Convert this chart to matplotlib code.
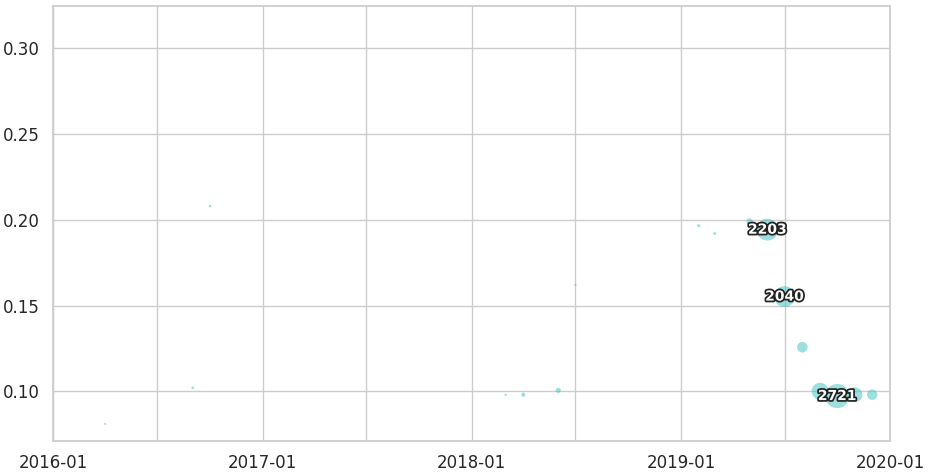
import matplotlib
matplotlib.use("Agg")
import matplotlib.pyplot as plt
import matplotlib.dates as mdates
import matplotlib.patheffects as pe
import seaborn as sns
import pandas as pd

# monthly points: date, value, count (bubble size)
dates = ["2016-04-01", "2016-09-01", "2016-10-01", "2018-03-01", "2018-04-01",
         "2018-06-01", "2018-07-01", "2019-02-01", "2019-03-01", "2019-05-01",
         "2019-06-01", "2019-07-01", "2019-08-01", "2019-09-01", "2019-10-01",
         "2019-11-01", "2019-12-01"]
values = [0.081, 0.102, 0.208, 0.098, 0.098,
          0.1005, 0.162, 0.1965, 0.192, 0.199,
          0.1942, 0.1552, 0.1257, 0.100, 0.0972,
          0.098, 0.098]
counts = [20, 35, 35, 25, 80,
          120, 22, 45, 40, 180,
          2203, 2040, 520, 1330, 2721,
          1000, 500]

sns.set_theme(style="whitegrid")
plt.rcParams['font.family'] = ['DejaVu Sans']

x = pd.to_datetime(dates)

fig = plt.figure(figsize=(9.32, 4.76), dpi=100)
ax = fig.add_axes([0.0569, 0.0735, 0.898, 0.9135])

ax.scatter(x, values, s=[c / 9 for c in counts], color="#4cc6c6", alpha=0.55,
           edgecolors="none", zorder=3)

for xi, yi, c in zip(x, values, counts):
    if c > 2000:
        ax.text(xi, yi, str(c), ha="center", va="center", fontsize=10,
                fontweight="bold", color="white", zorder=4,
                path_effects=[pe.withStroke(linewidth=2.5, foreground="#222222")])

ax.set_xlim(pd.Timestamp("2016-01-01"), pd.Timestamp("2020-01-01"))
ax.set_ylim(0.071, 0.3245)
ax.xaxis.set_major_locator(mdates.YearLocator())
ax.xaxis.set_minor_locator(mdates.MonthLocator(bymonth=[7]))
ax.xaxis.set_major_formatter(mdates.DateFormatter("%Y-%m"))
ax.grid(True, which="minor", axis="x", color="#cccccc", linewidth=1)
ax.tick_params(labelsize=12)
ax.set_yticks([0.10, 0.15, 0.20, 0.25, 0.30])
ax.set_yticklabels(["0.10", "0.15", "0.20", "0.25", "0.30"])

fig.savefig("out.png", dpi=100)
